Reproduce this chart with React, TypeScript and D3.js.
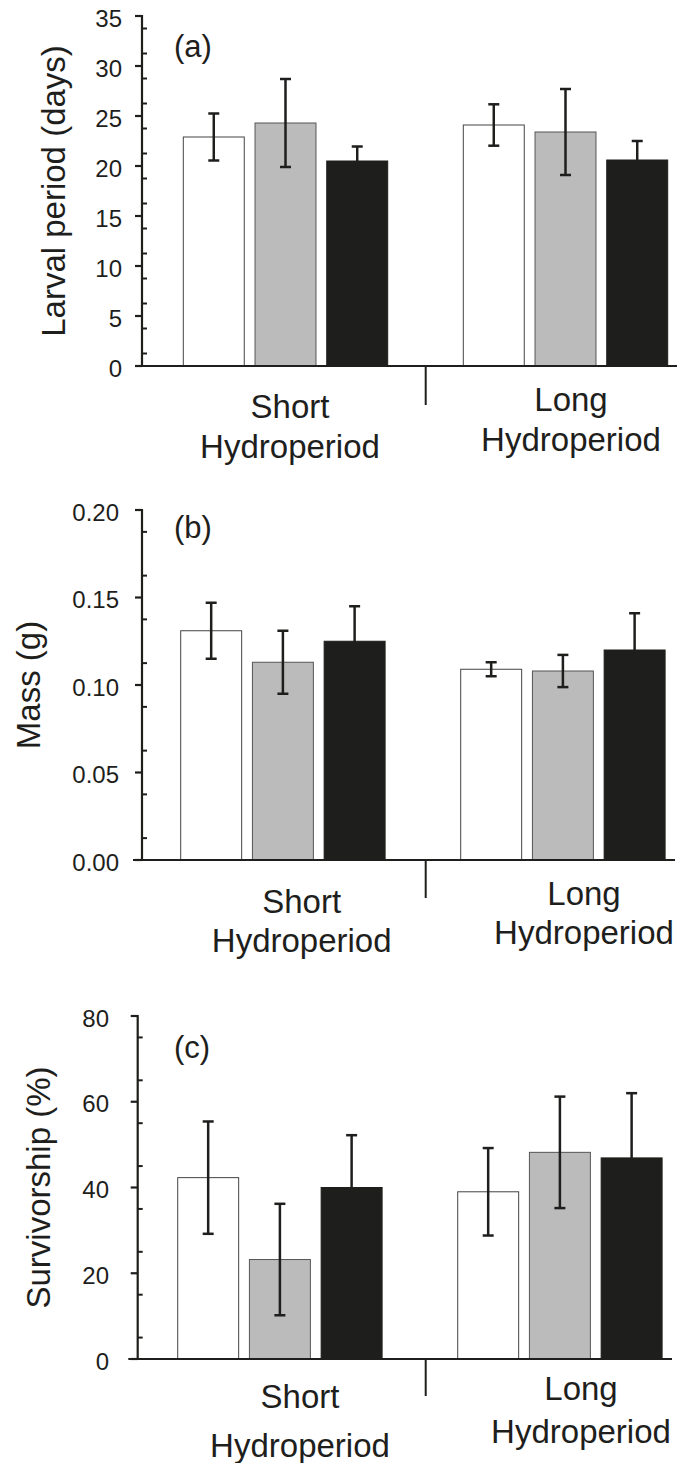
import React from "react";
import * as d3 from "d3";

// ---------- data ----------
const groups = ["Short", "Long"];
const series = ["Treatment 1", "Treatment 2", "Treatment 3"];
const seriesFill = ["#ffffff", "#bbbbbb", "#1e1e1c"];
const seriesStroke = ["#444444", "#555555", "#1e1e1c"];

const larvalShort = [22.9, 24.3, 20.5];
const larvalLong = [24.1, 23.4, 20.6];
const larvalErrShort = [2.35, 4.4, 1.45];
const larvalErrLong = [2.07, 4.3, 1.9];
const larvalTicks = [0, 5, 10, 15, 20, 25, 30, 35];

const massShort = [0.131, 0.113, 0.125];
const massLong = [0.109, 0.108, 0.12];
const massErrShort = [0.016, 0.018, 0.02];
const massErrLong = [0.004, 0.0092, 0.021];
const massTicks = [0, 0.05, 0.1, 0.15, 0.2];

const survShort = [42.3, 23.2, 40.0];
const survLong = [39.0, 48.2, 46.9];
const survErrShort = [13.1, 13.0, 12.2];
const survErrLong = [10.2, 13.0, 15.1];
const survTicks = [0, 20, 40, 60, 80];

const groupLine1 = ["Short", "Long"];
const groupLine2 = ["Hydroperiod", "Hydroperiod"];

// ---------- layout ----------
const FONT = "'Liberation Sans', Arial, Helvetica, sans-serif";
const INK = "#1e1e1c";

type Panel = {
  label: string;
  yTitle: string;
  yTitleX: number;
  means: number[][];
  errs: number[][];
  ticks: number[];
  minorStep: number;
  fmt: (v: number) => string;
  axisX: number;
  yTop: number;
  yBottom: number;
  barStart: number;
  xAxisStart: number;
  xAxisEnd: number;
  dividerX: number;
  dividerBottom: number;
  labelCenters: number[];
  line1Base: number[];
  line2Base: number[];
  tickLabelRight: number;
  panelLabelY: number;
};

const panels: Panel[] = [
  {
    label: "(a)",
    yTitle: "Larval period (days)",
    yTitleX: 65,
    means: [larvalShort, larvalLong],
    errs: [larvalErrShort, larvalErrLong],
    ticks: larvalTicks,
    minorStep: 2.5,
    fmt: d3.format("d"),
    axisX: 142,
    yTop: 16,
    yBottom: 366,
    barStart: 183.3,
    xAxisStart: 135,
    xAxisEnd: 677,
    dividerX: 425.7,
    dividerBottom: 405,
    labelCenters: [290, 571],
    line1Base: [418, 410.5],
    line2Base: [458, 450.5],
    tickLabelRight: 122,
    panelLabelY: 57,
  },
  {
    label: "(b)",
    yTitle: "Mass (g)",
    yTitleX: 40,
    means: [massShort, massLong],
    errs: [massErrShort, massErrLong],
    ticks: massTicks,
    minorStep: 0.025,
    fmt: d3.format(".2f"),
    axisX: 142,
    yTop: 510,
    yBottom: 860,
    barStart: 180.7,
    xAxisStart: 133,
    xAxisEnd: 675,
    dividerX: 425.7,
    dividerBottom: 898,
    labelCenters: [301.7, 584],
    line1Base: [913, 905],
    line2Base: [952, 944],
    tickLabelRight: 119,
    panelLabelY: 538,
  },
  {
    label: "(c)",
    yTitle: "Survivorship (%)",
    yTitleX: 50,
    means: [survShort, survLong],
    errs: [survErrShort, survErrLong],
    ticks: survTicks,
    minorStep: 10,
    fmt: d3.format("d"),
    axisX: 137.7,
    yTop: 1016,
    yBottom: 1359,
    barStart: 177.7,
    xAxisStart: 128.3,
    xAxisEnd: 672,
    dividerX: 425.7,
    dividerBottom: 1396,
    labelCenters: [300, 581],
    line1Base: [1408, 1400],
    line2Base: [1457, 1443],
    tickLabelRight: 109,
    panelLabelY: 1058,
  },
];

function PanelView({ p }: { p: Panel }) {
  const yMax = p.ticks[p.ticks.length - 1];
  const y = d3.scaleLinear().domain([0, yMax]).range([p.yBottom, p.yTop]);
  const x0 = d3
    .scaleBand<string>()
    .domain(groups)
    .range([p.barStart, p.barStart + 560])
    .paddingInner(0)
    .paddingOuter(0);
  const x1 = d3
    .scaleBand<string>()
    .domain(series)
    .range([0, 204.4])
    .paddingInner(0.15)
    .paddingOuter(0);
  const minorTicks = d3
    .range(0, Math.round(yMax / p.minorStep))
    .map((i) => (i + 0.5) * p.minorStep)
    .filter((v) => !p.ticks.some((t) => Math.abs(t - v) < 1e-9));
  const bw = x1.bandwidth();

  return (
    <g>
      {/* bars */}
      {groups.map((g, gi) =>
        series.map((s, si) => {
          const v = p.means[gi][si];
          const bx = (x0(g) as number) + (x1(s) as number);
          return (
            <rect
              key={`b-${g}-${s}`}
              x={bx}
              y={y(v)}
              width={bw}
              height={y(0) - y(v)}
              fill={seriesFill[si]}
              stroke={seriesStroke[si]}
              strokeWidth={1}
            />
          );
        })
      )}
      {/* error bars */}
      {groups.map((g, gi) =>
        series.map((s, si) => {
          const v = p.means[gi][si];
          const e = p.errs[gi][si];
          const cx = (x0(g) as number) + (x1(s) as number) + bw / 2;
          const yt = y(v + e);
          const yb = y(v - e);
          return (
            <g key={`e-${g}-${s}`} stroke={INK} strokeWidth={2.5}>
              <line x1={cx} x2={cx} y1={yt} y2={yb} />
              <line x1={cx - 5.5} x2={cx + 5.5} y1={yt} y2={yt} />
              <line x1={cx - 5.5} x2={cx + 5.5} y1={yb} y2={yb} />
            </g>
          );
        })
      )}
      {/* y axis */}
      <line x1={p.axisX} x2={p.axisX} y1={p.yTop - 1} y2={p.yBottom} stroke={INK} strokeWidth={2.2} />
      {p.ticks.map((t) => (
        <g key={`t-${t}`}>
          <line x1={p.axisX - 7} x2={p.axisX} y1={y(t)} y2={y(t)} stroke={INK} strokeWidth={2.2} />
          <text
            x={p.tickLabelRight}
            y={y(t) + 10.5}
            textAnchor="end"
            fontFamily={FONT}
            fontSize={24}
            fill={INK}
          >
            {p.fmt(t)}
          </text>
        </g>
      ))}
      {minorTicks.map((t) => (
        <line
          key={`m-${t}`}
          x1={p.axisX}
          x2={p.axisX + 5}
          y1={y(t)}
          y2={y(t)}
          stroke={INK}
          strokeWidth={2}
        />
      ))}
      {/* x axis */}
      <line x1={p.xAxisStart} x2={p.xAxisEnd} y1={p.yBottom} y2={p.yBottom} stroke={INK} strokeWidth={2.2} />
      <line x1={p.dividerX} x2={p.dividerX} y1={p.yBottom} y2={p.dividerBottom} stroke={INK} strokeWidth={2} />
      {groups.map((g, gi) => (
        <g key={`gl-${g}`} fontFamily={FONT} fontSize={33} fill={INK} textAnchor="middle">
          <text x={p.labelCenters[gi]} y={p.line1Base[gi]}>
            {groupLine1[gi]}
          </text>
          <text x={p.labelCenters[gi]} y={p.line2Base[gi]}>
            {groupLine2[gi]}
          </text>
        </g>
      ))}
      {/* y title */}
      <text
        transform={`translate(${p.yTitleX},${(p.yTop + p.yBottom) / 2}) rotate(-90)`}
        textAnchor="middle"
        fontFamily={FONT}
        fontSize={33}
        fill={INK}
      >
        {p.yTitle}
      </text>
      {/* panel label */}
      <text x={174} y={p.panelLabelY} fontFamily={FONT} fontSize={31} fill={INK}>
        {p.label}
      </text>
    </g>
  );
}

export default function App() {
  return (
    <svg
      width={691}
      height={1463}
      viewBox="0 0 691 1463"
      style={{ position: "absolute", left: 0, top: 0, background: "#ffffff" }}
    >
      <rect x={0} y={0} width={691} height={1463} fill="#ffffff" />
      {panels.map((p) => (
        <PanelView key={p.label} p={p} />
      ))}
    </svg>
  );
}
